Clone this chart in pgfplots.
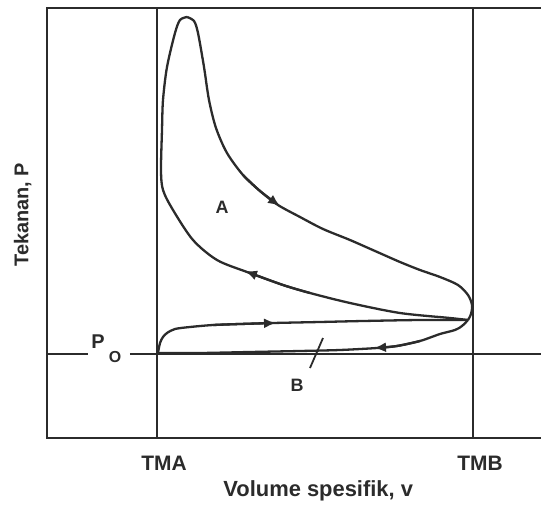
\documentclass[border=0pt]{standalone}
\usepackage{pgfplots}
\pgfplotsset{compat=1.18}
\usepackage{fontspec}
\setmainfont{Liberation Sans}
\usetikzlibrary{arrows.meta}

\definecolor{ink}{gray}{0.17}
\tikzset{curve/.style={draw=ink, line width=2.3bp, smooth, tension=0.5, mark=none},
  tip/.style={-{Latex[length=12bp,width=10bp]}}}

\begin{document}
\begin{tikzpicture}
\useasboundingbox (-47bp,-76bp) rectangle (494bp,438bp);
\begin{axis}[
    x=1bp, y=1bp,
    xmin=47, xmax=541, ymin=76, ymax=506,
    clip=false,
    axis line style={draw=none},
    xtick={157,473}, xticklabels={TMA,TMB},
    ytick=\empty,
    major tick length=0pt,
    xticklabel style={font=\fontsize{21}{24}\selectfont\bfseries, text=ink,
        anchor=center, yshift=-25bp, xshift=7bp},
    xlabel={Volume spesifik, v},
    ylabel={Tekanan, P},
    xlabel style={font=\fontsize{22}{26}\selectfont\bfseries, text=ink,
        at={(axis description cs:0.549,-0.123)}, anchor=center},
    ylabel style={font=\fontsize{20}{24}\selectfont\bfseries, text=ink,
        at={(axis description cs:-0.049,0.519)}, anchor=center},
]
% frame (right side is cut off in the original)
\draw[ink, line width=2.2bp] (axis cs:541,506) -- (axis cs:47,506) -- (axis cs:47,76) -- (axis cs:541,76);
\draw[ink, line width=2.2bp] (axis cs:157,76) -- (axis cs:157,506);
\draw[ink, line width=2.2bp] (axis cs:473,76) -- (axis cs:473,506);
% atmospheric pressure line
\draw[ink, line width=2.2bp] (axis cs:47,160) -- (axis cs:88,160);
\draw[ink, line width=2.2bp] (axis cs:130,160) -- (axis cs:541,160);

% expansion
\addplot[curve] coordinates {
 (187,497) (194,493) (198,481) (204,447) (209,414) (216,386) (227,361)
 (243,339) (260,323) (278,309) (300,297) (323,285) (350,274) (375,263)
 (400,252) (420,244) (440,237) (458,229) (468,219) (472,209) (471,200) (468,194)};
\addplot[curve, tip] coordinates {(243,339) (260,323) (280,308)};
% compression
\addplot[curve] coordinates {
 (468,194) (450,196) (400,201) (350,211) (310,221) (283,229) (247,242)
 (217,254) (193,274) (173,304) (163,324) (161,344) (162,384)
 (163,414) (167,447) (175,481) (180,494) (187,497)};
\addplot[curve, tip] coordinates {(310,221) (283,229) (245,243)};
% exhaust / intake loop
\addplot[curve] coordinates {
 (158,161) (160,171) (163,177) (167,181) (175,185) (190,187) (213,189)
 (240,190) (273,191) (320,192) (363,193) (420,194) (468,194)};
\addplot[curve, tip] coordinates {(213,189) (240,190) (276,191)};
\addplot[curve] coordinates {
 (468,194) (462,188) (455,184) (440,180) (420,173) (397,168) (377,166)
 (340,164) (300,163) (250,162) (200,161) (158,161)};
\addplot[curve, tip] coordinates {(420,173) (397,168) (374,166)};

\draw[ink, line width=1.8bp] (axis cs:310,146) -- (axis cs:323,176);

\node[text=ink, font=\fontsize{18}{22}\selectfont\bfseries] at (axis cs:222,307) {A};
\node[text=ink, font=\fontsize{18}{22}\selectfont\bfseries] at (axis cs:297,129) {B};
\node[text=ink, font=\fontsize{20}{24}\selectfont\bfseries] at (axis cs:98,172) {P};
\node[text=ink, font=\fontsize{16}{20}\selectfont\bfseries] at (axis cs:115,157) {O};
\end{axis}
\end{tikzpicture}
\end{document}
